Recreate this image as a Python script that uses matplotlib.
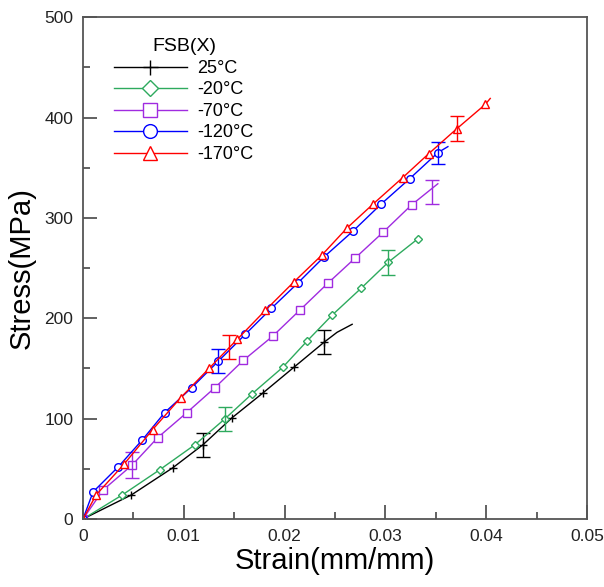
import matplotlib
matplotlib.use("Agg")
import matplotlib.pyplot as plt

plt.rcParams['font.family'] = ['Liberation Sans', 'DejaVu Sans']

# 25C
strain_25 = [0, 0.0048, 0.0089, 0.0119, 0.0148, 0.0179, 0.0209, 0.0239, 0.0252, 0.0267]
stress_25 = [0, 24, 51, 74, 101, 126, 151, 176, 186, 194]
# -20C
strain_m20 = [0, 0.0039, 0.0076, 0.0111, 0.0141, 0.0168, 0.0198, 0.0222, 0.0247, 0.0276, 0.0303, 0.0332]
stress_m20 = [0, 24, 49, 74, 100, 125, 151, 177, 203, 230, 256, 279]
# -70C
strain_m70 = [0, 0.0020, 0.0049, 0.0074, 0.0103, 0.0131, 0.0159, 0.0188, 0.0215, 0.0243, 0.0270, 0.0298, 0.0326, 0.0352]
stress_m70 = [0, 29, 54, 81, 106, 131, 158, 182, 208, 235, 260, 286, 313, 334]
# -120C
strain_m120 = [0, 0.0010, 0.0035, 0.0059, 0.0081, 0.0108, 0.0134, 0.0161, 0.0187, 0.0213, 0.0239, 0.0268, 0.0296, 0.0324, 0.0352, 0.0362]
stress_m120 = [0, 27, 52, 79, 106, 131, 157, 184, 210, 235, 261, 287, 314, 339, 365, 371]
# -170C
strain_m170 = [0, 0.0013, 0.0041, 0.0069, 0.0097, 0.0125, 0.0153, 0.0181, 0.0209, 0.0237, 0.0262, 0.0288, 0.0317, 0.0343, 0.0371, 0.0399, 0.0404]
stress_m170 = [0, 24, 55, 89, 121, 150, 179, 208, 236, 263, 290, 314, 340, 364, 389, 413, 419]

# how many leading points of each curve carry a marker
n_marked = [8, 12, 13, 15, 16]

# error bars: (strain, stress, half-range)
err_25 = ([0.0119, 0.0239], [74, 176], [12, 12])
err_m20 = ([0.0141, 0.0303], [100, 256], [12, 12.5])
err_m70 = ([0.0049, 0.0346], [54, 326], [13, 12])
err_m120 = ([0.0134, 0.0352], [157, 365], [12, 11])
err_m170 = ([0.0145, 0.0371], [171, 389], [12, 12.5])

labels = ['25°C', '-20°C', '-70°C', '-120°C', '-170°C']
colors = ['black', '#2eaa5e', '#a02be0', '#0000ff', '#ff0000']
markers = ['+', 'D', 's', 'o', '^']

series = [(strain_25, stress_25, err_25), (strain_m20, stress_m20, err_m20),
          (strain_m70, stress_m70, err_m70), (strain_m120, stress_m120, err_m120),
          (strain_m170, stress_m170, err_m170)]

fig = plt.figure(figsize=(6.04, 5.87), dpi=100)
ax = fig.add_axes([0.1374, 0.1158, 0.8345, 0.855])

for (x, y, e), n, lab, c, m in zip(series, n_marked, labels, colors, markers):
    ms = 6 if m == '+' else (4.5 if m == 'D' else 5.5)
    ax.plot(x, y, color=c, lw=1.0, marker=m, markersize=ms, markevery=slice(0, n),
            markerfacecolor='white' if m != '+' else c, markeredgecolor=c, markeredgewidth=1.0,
            label=lab)
    ax.errorbar(e[0], e[1], yerr=e[2], fmt='none', ecolor=c, elinewidth=1.0, capsize=5, capthick=1.0)

ax.set_xlim(0, 0.05)
ax.set_ylim(0, 500)
ax.set_xticks([0, 0.01, 0.02, 0.03, 0.04, 0.05])
ax.set_xticklabels(['0', '0.01', '0.02', '0.03', '0.04', '0.05'])
ax.set_xticks([0.005, 0.015, 0.025, 0.035, 0.045], minor=True)
ax.set_yticks([0, 100, 200, 300, 400, 500])
ax.set_yticks([50, 150, 250, 350, 450], minor=True)

for s in ax.spines.values():
    s.set_color('#555555')
    s.set_linewidth(1.3)
ax.tick_params(which='both', direction='in', colors='#555555', labelcolor='#222222', width=1.3)
ax.tick_params(which='major', length=10, labelsize=12.5, pad=7)
ax.tick_params(which='minor', length=5)

ax.set_xlabel('Strain(mm/mm)', fontsize=21, labelpad=2)
ax.set_ylabel('Stress(MPa)', fontsize=21, labelpad=6)

leg = ax.legend(title='FSB(X)', loc='upper left', bbox_to_anchor=(0.03, 0.99), frameon=False,
                fontsize=13, title_fontsize=14, handlelength=4, markerscale=1.8,
                labelspacing=0.25, handletextpad=0.6)

fig.savefig('out.png', dpi=100)
